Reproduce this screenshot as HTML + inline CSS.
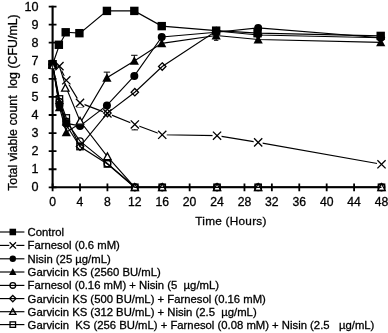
<!DOCTYPE html><html><head><meta charset="utf-8"><title>Chart</title><style>html,body{margin:0;padding:0;background:#fff}svg{display:block}text{white-space:pre;font-family:"Liberation Sans",Arial,sans-serif;fill:#000;stroke:#000;stroke-width:0.3px}</style></head><body>
<svg width="388" height="333" viewBox="0 0 388 333">
<rect width="388" height="333" fill="#fff"/>
<path d="M52.6 5.65V187.3H381.20" fill="none" stroke="#000" stroke-width="2.1"/>
<path d="M48.70 187.30h7.8M48.70 169.23h7.8M48.70 151.15h7.8M48.70 133.08h7.8M48.70 115.00h7.8M48.70 96.93h7.8M48.70 78.85h7.8M48.70 60.78h7.8M48.70 42.70h7.8M48.70 24.63h7.8M48.70 6.55h7.8M52.60 183.40v7.8M80.01 183.40v7.8M107.42 183.40v7.8M134.82 183.40v7.8M162.23 183.40v7.8M189.64 183.40v7.8M217.05 183.40v7.8M244.46 183.40v7.8M271.86 183.40v7.8M299.27 183.40v7.8M326.68 183.40v7.8M354.09 183.40v7.8M381.50 183.40v7.8" fill="none" stroke="#000" stroke-width="1.8"/>
<text x="38.4" y="190.90" font-size="12.6" text-anchor="end">0</text>
<text x="38.4" y="172.87" font-size="12.6" text-anchor="end">1</text>
<text x="38.4" y="154.83" font-size="12.6" text-anchor="end">2</text>
<text x="38.4" y="136.80" font-size="12.6" text-anchor="end">3</text>
<text x="38.4" y="118.76" font-size="12.6" text-anchor="end">4</text>
<text x="38.4" y="100.73" font-size="12.6" text-anchor="end">5</text>
<text x="38.4" y="82.69" font-size="12.6" text-anchor="end">6</text>
<text x="38.4" y="64.66" font-size="12.6" text-anchor="end">7</text>
<text x="38.4" y="46.62" font-size="12.6" text-anchor="end">8</text>
<text x="38.4" y="28.59" font-size="12.6" text-anchor="end">9</text>
<text x="38.4" y="10.55" font-size="12.6" text-anchor="end">10</text>
<text x="52.60" y="206.3" font-size="12.2" text-anchor="middle">0</text>
<text x="80.01" y="206.3" font-size="12.2" text-anchor="middle">4</text>
<text x="107.42" y="206.3" font-size="12.2" text-anchor="middle">8</text>
<text x="134.82" y="206.3" font-size="12.2" text-anchor="middle">12</text>
<text x="162.23" y="206.3" font-size="12.2" text-anchor="middle">16</text>
<text x="189.64" y="206.3" font-size="12.2" text-anchor="middle">20</text>
<text x="217.05" y="206.3" font-size="12.2" text-anchor="middle">24</text>
<text x="244.46" y="206.3" font-size="12.2" text-anchor="middle">28</text>
<text x="271.86" y="206.3" font-size="12.2" text-anchor="middle">32</text>
<text x="299.27" y="206.3" font-size="12.2" text-anchor="middle">36</text>
<text x="326.68" y="206.3" font-size="12.2" text-anchor="middle">40</text>
<text x="354.09" y="206.3" font-size="12.2" text-anchor="middle">44</text>
<text x="381.50" y="206.3" font-size="12.2" text-anchor="middle">48</text>
<text transform="translate(16.5 102.6) rotate(-90)" font-size="12.37" text-anchor="middle" xml:space="preserve">Total viable count  log (CFU/mL)</text>
<text x="231.0" y="225.3" font-size="11.8" letter-spacing="0.24" text-anchor="middle">Time (Hours)</text>
<path d="M106.92 77.73V72.13M103.72 72.13h6.40" fill="none" stroke="#000" stroke-width="1"/>
<path d="M134.32 60.89V55.29M131.12 55.29h6.40" fill="none" stroke="#000" stroke-width="1"/>
<path d="M134.82 124.46V129.86M131.62 129.86h6.40" fill="none" stroke="#000" stroke-width="1"/>
<path d="M80.01 102.91V107.21M76.81 107.21h6.40" fill="none" stroke="#000" stroke-width="1"/>
<path d="M216.15 35.18V40.30M213.95 40.30h4.40" fill="none" stroke="#000" stroke-width="1"/>
<polyline points="52.60,64.51 59.45,44.77 66.30,32.28 80.01,33.18 106.92,10.91 134.32,10.91 161.73,26.12 216.15,30.65 258.16,33.18 380.70,35.90" fill="none" stroke="#000" stroke-width="1.15"/>
<rect x="48.40" y="60.31" width="8.40" height="8.40" fill="#000"/>
<rect x="54.65" y="40.57" width="8.40" height="8.40" fill="#000"/>
<rect x="61.50" y="28.08" width="8.40" height="8.40" fill="#000"/>
<rect x="75.21" y="28.98" width="8.40" height="8.40" fill="#000"/>
<rect x="102.72" y="6.71" width="8.40" height="8.40" fill="#000"/>
<rect x="130.12" y="6.71" width="8.40" height="8.40" fill="#000"/>
<rect x="157.53" y="21.92" width="8.40" height="8.40" fill="#000"/>
<rect x="211.95" y="26.45" width="8.40" height="8.40" fill="#000"/>
<rect x="253.36" y="28.98" width="8.40" height="8.40" fill="#000"/>
<rect x="376.50" y="31.70" width="8.40" height="8.40" fill="#000"/>
<polyline points="52.60,64.51 59.45,66.14 66.30,80.27 80.01,102.91 107.42,113.41 134.82,124.46 162.23,134.78 217.05,135.69 258.16,142.39 381.50,164.30" fill="none" stroke="#000" stroke-width="1.15"/>
<rect x="48.10" y="60.01" width="9.00" height="9.00" fill="#fff"/><path d="M48.50 60.41L56.70 68.61M56.70 60.41L48.50 68.61" fill="none" stroke="#000" stroke-width="1.3"/>
<rect x="54.95" y="61.64" width="9.00" height="9.00" fill="#fff"/><path d="M55.35 62.04L63.55 70.24M63.55 62.04L55.35 70.24" fill="none" stroke="#000" stroke-width="1.3"/>
<rect x="61.80" y="75.77" width="9.00" height="9.00" fill="#fff"/><path d="M62.20 76.17L70.40 84.37M70.40 76.17L62.20 84.37" fill="none" stroke="#000" stroke-width="1.3"/>
<rect x="75.51" y="98.41" width="9.00" height="9.00" fill="#fff"/><path d="M75.91 98.81L84.11 107.01M84.11 98.81L75.91 107.01" fill="none" stroke="#000" stroke-width="1.3"/>
<rect x="102.92" y="108.91" width="9.00" height="9.00" fill="#fff"/><path d="M103.32 109.31L111.52 117.51M111.52 109.31L103.32 117.51" fill="none" stroke="#000" stroke-width="1.3"/>
<rect x="130.32" y="119.96" width="9.00" height="9.00" fill="#fff"/><path d="M130.72 120.36L138.92 128.56M138.92 120.36L130.72 128.56" fill="none" stroke="#000" stroke-width="1.3"/>
<rect x="157.73" y="130.28" width="9.00" height="9.00" fill="#fff"/><path d="M158.13 130.68L166.33 138.88M166.33 130.68L158.13 138.88" fill="none" stroke="#000" stroke-width="1.3"/>
<rect x="212.55" y="131.19" width="9.00" height="9.00" fill="#fff"/><path d="M212.95 131.59L221.15 139.79M221.15 131.59L212.95 139.79" fill="none" stroke="#000" stroke-width="1.3"/>
<rect x="253.66" y="137.89" width="9.00" height="9.00" fill="#fff"/><path d="M254.06 138.29L262.26 146.49M262.26 138.29L254.06 146.49" fill="none" stroke="#000" stroke-width="1.3"/>
<rect x="377.00" y="159.80" width="9.00" height="9.00" fill="#fff"/><path d="M377.40 160.20L385.60 168.40M385.60 160.20L377.40 168.40" fill="none" stroke="#000" stroke-width="1.3"/>
<polyline points="52.60,64.51 59.45,105.44 66.30,123.37 80.01,125.91 106.92,105.44 134.32,75.92 161.73,36.99 216.15,32.28 258.16,27.93 380.70,37.71" fill="none" stroke="#000" stroke-width="1.15"/>
<circle cx="52.60" cy="64.51" r="4.00" fill="#000"/>
<circle cx="59.45" cy="105.44" r="4.00" fill="#000"/>
<circle cx="66.30" cy="123.37" r="4.00" fill="#000"/>
<circle cx="80.01" cy="125.91" r="4.00" fill="#000"/>
<circle cx="106.92" cy="105.44" r="4.00" fill="#000"/>
<circle cx="134.32" cy="75.92" r="4.00" fill="#000"/>
<circle cx="161.73" cy="36.99" r="4.00" fill="#000"/>
<circle cx="216.15" cy="32.28" r="4.00" fill="#000"/>
<circle cx="258.16" cy="27.93" r="4.00" fill="#000"/>
<circle cx="380.70" cy="37.71" r="4.00" fill="#000"/>
<polyline points="52.60,64.51 59.45,107.25 66.30,132.25 80.01,123.37 106.92,77.73 134.32,60.89 161.73,43.33 216.15,35.54 258.16,39.52 380.70,42.42" fill="none" stroke="#000" stroke-width="1.15"/>
<path d="M52.60 59.91L57.20 68.41L48.00 68.41Z" fill="#000"/>
<path d="M59.45 102.65L64.05 111.15L54.85 111.15Z" fill="#000"/>
<path d="M66.30 127.65L70.90 136.15L61.70 136.15Z" fill="#000"/>
<path d="M80.01 118.77L84.61 127.27L75.41 127.27Z" fill="#000"/>
<path d="M106.92 73.13L111.52 81.63L102.32 81.63Z" fill="#000"/>
<path d="M134.32 56.29L138.92 64.79L129.72 64.79Z" fill="#000"/>
<path d="M161.73 38.73L166.33 47.23L157.13 47.23Z" fill="#000"/>
<path d="M216.15 30.94L220.75 39.44L211.55 39.44Z" fill="#000"/>
<path d="M258.16 34.92L262.76 43.42L253.56 43.42Z" fill="#000"/>
<path d="M380.70 37.82L385.30 46.32L376.10 46.32Z" fill="#000"/>
<polyline points="52.60,64.51 59.45,101.82 66.30,121.56 80.01,141.12 107.42,163.39 134.82,187.30 162.23,187.30 217.05,187.30 258.16,187.30 381.50,187.30" fill="none" stroke="#000" stroke-width="1.15"/>
<circle cx="52.60" cy="64.51" r="3.30" fill="none" stroke="#000" stroke-width="1.3"/>
<circle cx="59.45" cy="101.82" r="3.30" fill="none" stroke="#000" stroke-width="1.3"/>
<circle cx="66.30" cy="121.56" r="3.30" fill="none" stroke="#000" stroke-width="1.3"/>
<circle cx="80.01" cy="141.12" r="3.30" fill="none" stroke="#000" stroke-width="1.3"/>
<circle cx="107.42" cy="163.39" r="3.30" fill="none" stroke="#000" stroke-width="1.3"/>
<circle cx="134.82" cy="187.30" r="3.30" fill="none" stroke="#000" stroke-width="1.3"/>
<circle cx="162.23" cy="187.30" r="3.30" fill="none" stroke="#000" stroke-width="1.3"/>
<circle cx="217.05" cy="187.30" r="3.30" fill="none" stroke="#000" stroke-width="1.3"/>
<circle cx="258.16" cy="187.30" r="3.30" fill="none" stroke="#000" stroke-width="1.3"/>
<circle cx="381.50" cy="187.30" r="3.30" fill="none" stroke="#000" stroke-width="1.3"/>
<polyline points="52.60,64.51 59.45,103.63 66.30,125.00 80.01,146.55 107.42,113.05 134.82,92.22 162.23,66.51 216.15,31.01 258.16,34.99 380.70,37.71" fill="none" stroke="#000" stroke-width="1.15"/>
<path d="M52.60 60.81L56.30 64.51L52.60 68.21L48.90 64.51Z" fill="none" stroke="#000" stroke-width="1.3"/>
<path d="M59.45 99.93L63.15 103.63L59.45 107.33L55.75 103.63Z" fill="none" stroke="#000" stroke-width="1.3"/>
<path d="M66.30 121.30L70.00 125.00L66.30 128.70L62.60 125.00Z" fill="none" stroke="#000" stroke-width="1.3"/>
<path d="M80.01 142.85L83.71 146.55L80.01 150.25L76.31 146.55Z" fill="none" stroke="#000" stroke-width="1.3"/>
<path d="M107.42 109.35L111.12 113.05L107.42 116.75L103.72 113.05Z" fill="none" stroke="#000" stroke-width="1.3"/>
<path d="M134.82 88.52L138.52 92.22L134.82 95.92L131.12 92.22Z" fill="none" stroke="#000" stroke-width="1.3"/>
<path d="M162.23 62.81L165.93 66.51L162.23 70.21L158.53 66.51Z" fill="none" stroke="#000" stroke-width="1.3"/>
<path d="M216.15 27.31L219.85 31.01L216.15 34.71L212.45 31.01Z" fill="none" stroke="#000" stroke-width="1.3"/>
<path d="M258.16 31.29L261.86 34.99L258.16 38.69L254.46 34.99Z" fill="none" stroke="#000" stroke-width="1.3"/>
<path d="M380.70 34.01L384.40 37.71L380.70 41.41L377.00 37.71Z" fill="none" stroke="#000" stroke-width="1.3"/>
<polyline points="52.60,64.51 59.45,66.69 66.30,87.88 80.01,121.02 107.42,156.51 134.82,187.30 162.23,187.30 217.05,187.30 258.16,187.30 381.50,187.30" fill="none" stroke="#000" stroke-width="1.15"/>
<path d="M52.60 60.91L56.30 67.71L48.90 67.71Z" fill="#fff" stroke="#000" stroke-width="1.3"/>
<path d="M65.30 84.28L69.00 91.08L61.60 91.08Z" fill="#fff" stroke="#000" stroke-width="1.3"/>
<path d="M80.01 117.42L83.71 124.22L76.31 124.22Z" fill="#fff" stroke="#000" stroke-width="1.3"/>
<path d="M107.42 152.91L111.12 159.71L103.72 159.71Z" fill="#fff" stroke="#000" stroke-width="1.3"/>
<path d="M134.82 183.70L138.52 190.50L131.12 190.50Z" fill="#fff" stroke="#000" stroke-width="1.3"/>
<path d="M162.23 183.70L165.93 190.50L158.53 190.50Z" fill="#fff" stroke="#000" stroke-width="1.3"/>
<path d="M217.05 183.70L220.75 190.50L213.35 190.50Z" fill="#fff" stroke="#000" stroke-width="1.3"/>
<path d="M258.16 183.70L261.86 190.50L254.46 190.50Z" fill="#fff" stroke="#000" stroke-width="1.3"/>
<path d="M381.50 183.70L385.20 190.50L377.80 190.50Z" fill="#fff" stroke="#000" stroke-width="1.3"/>
<polyline points="52.60,64.51 59.45,98.92 66.30,117.94 80.01,146.55 107.42,163.94 134.82,187.30 162.23,187.30 217.05,187.30 258.16,187.30 381.50,187.30" fill="none" stroke="#000" stroke-width="1.15"/>
<rect x="49.40" y="61.31" width="6.40" height="6.40" fill="none" stroke="#000" stroke-width="1.3"/>
<rect x="56.25" y="95.72" width="6.40" height="6.40" fill="none" stroke="#000" stroke-width="1.3"/>
<rect x="63.10" y="114.74" width="6.40" height="6.40" fill="none" stroke="#000" stroke-width="1.3"/>
<rect x="76.81" y="143.35" width="6.40" height="6.40" fill="none" stroke="#000" stroke-width="1.3"/>
<rect x="104.22" y="160.74" width="6.40" height="6.40" fill="none" stroke="#000" stroke-width="1.3"/>
<rect x="131.62" y="184.10" width="6.40" height="6.40" fill="none" stroke="#000" stroke-width="1.3"/>
<rect x="159.03" y="184.10" width="6.40" height="6.40" fill="none" stroke="#000" stroke-width="1.3"/>
<rect x="213.85" y="184.10" width="6.40" height="6.40" fill="none" stroke="#000" stroke-width="1.3"/>
<rect x="254.96" y="184.10" width="6.40" height="6.40" fill="none" stroke="#000" stroke-width="1.3"/>
<rect x="378.30" y="184.10" width="6.40" height="6.40" fill="none" stroke="#000" stroke-width="1.3"/>
<rect x="48.2" y="59.7" width="8.3" height="9.5" rx="1.8" fill="#000"/><path d="M52.6 64.2L54.6 68.3L50.6 68.3Z" fill="#fff"/><path d="M52.6 64V69.5" stroke="#000" stroke-width="0.9" fill="none"/>
<path d="M0 232.00H24.4" stroke="#000" stroke-width="1.15" fill="none"/>
<rect x="9.52" y="228.72" width="6.55" height="6.55" fill="#000"/>
<text x="27.6" y="236.00" font-size="11.31" xml:space="preserve">Control</text>
<path d="M0 245.40H24.4" stroke="#000" stroke-width="1.15" fill="none"/>
<rect x="9.29" y="241.89" width="7.02" height="7.02" fill="#fff"/><path d="M9.60 242.20L16.00 248.60M16.00 242.20L9.60 248.60" fill="none" stroke="#000" stroke-width="1.3"/>
<text x="27.6" y="249.40" font-size="11.31" xml:space="preserve">Farnesol (0.6 mM)</text>
<path d="M0 258.80H24.4" stroke="#000" stroke-width="1.15" fill="none"/>
<circle cx="12.80" cy="258.80" r="3.20" fill="#000"/>
<text x="27.6" y="262.80" font-size="11.31" xml:space="preserve">Nisin (25 µg/mL)</text>
<path d="M0 272.00H24.4" stroke="#000" stroke-width="1.15" fill="none"/>
<path d="M12.80 268.32L16.48 275.12L9.12 275.12Z" fill="#000"/>
<text x="27.6" y="276.00" font-size="11.31" xml:space="preserve">Garvicin KS (2560 BU/mL)</text>
<path d="M0 285.40H24.4" stroke="#000" stroke-width="1.15" fill="none"/>
<circle cx="12.80" cy="285.40" r="2.84" fill="none" stroke="#000" stroke-width="1.3"/>
<text x="27.6" y="289.40" font-size="11.31" xml:space="preserve">Farnesol (0.16 mM) + Nisin (5  µg/mL)</text>
<path d="M0 298.60H24.4" stroke="#000" stroke-width="1.15" fill="none"/>
<path d="M12.80 295.42L15.98 298.60L12.80 301.78L9.62 298.60Z" fill="none" stroke="#000" stroke-width="1.3"/>
<text x="27.6" y="302.60" font-size="11.31" xml:space="preserve">Garvicin KS (500 BU/mL) + Farnesol (0.16 mM)</text>
<path d="M0 311.70H24.4" stroke="#000" stroke-width="1.15" fill="none"/>
<path d="M12.80 308.60L15.98 314.45L9.62 314.45Z" fill="none" stroke="#000" stroke-width="1.3"/>
<text x="27.6" y="315.70" font-size="11.31" xml:space="preserve">Garvicin KS (312 BU/mL) + Nisin (2.5  µg/mL)</text>
<path d="M0 324.60H24.4" stroke="#000" stroke-width="1.15" fill="none"/>
<rect x="10.05" y="321.85" width="5.50" height="5.50" fill="none" stroke="#000" stroke-width="1.3"/>
<text x="27.6" y="328.60" font-size="11.31" xml:space="preserve">Garvicin  KS (256 BU/mL) + Farnesol (0.08 mM) + Nisin (2.5   µg/mL)</text>
</svg></body></html>
